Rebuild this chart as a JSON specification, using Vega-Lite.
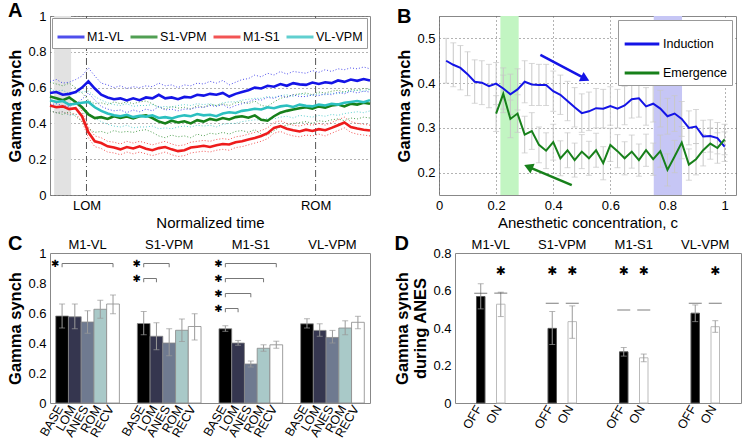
{
"$schema": "https://vega.github.io/schema/vega-lite/v6.json",
"padding": {"left": 7, "top": 0, "right": 0, "bottom": 0},
"spacing": 2,
"config": {
  "font": "Liberation Sans",
  "view": {"stroke": "#888", "strokeWidth": 1},
  "axis": {"labelFontSize": 13, "labelColor": "#000", "titleColor": "#000", "titleFontSize": 16.5, "titleFontWeight": "bold", "domain": false, "ticks": false, "grid": false, "labelPadding": 4, "labelOverlap": false, "labelFlush": false},
  "title": {"fontSize": 20, "fontWeight": "bold", "anchor": "start", "frame": "bounds", "color": "#000"}
},
"datasets": {
  "ts": [
{"pair":"M1-VL","t":0,"v":0.570,"lo":0.505,"hi":0.635},{"pair":"M1-VL","t":2,"v":0.575,"lo":0.51,"hi":0.645},{"pair":"M1-VL","t":4,"v":0.560,"lo":0.50,"hi":0.625},{"pair":"M1-VL","t":6,"v":0.565,"lo":0.495,"hi":0.63},{"pair":"M1-VL","t":8,"v":0.575,"lo":0.51,"hi":0.645},{"pair":"M1-VL","t":10,"v":0.600,"lo":0.535,"hi":0.665},{"pair":"M1-VL","t":12,"v":0.635,"lo":0.57,"hi":0.71},{"pair":"M1-VL","t":14,"v":0.595,"lo":0.53,"hi":0.665},{"pair":"M1-VL","t":16,"v":0.560,"lo":0.495,"hi":0.625},{"pair":"M1-VL","t":18,"v":0.545,"lo":0.48,"hi":0.615},{"pair":"M1-VL","t":20,"v":0.535,"lo":0.47,"hi":0.60},{"pair":"M1-VL","t":22,"v":0.540,"lo":0.475,"hi":0.61},{"pair":"M1-VL","t":24,"v":0.528,"lo":0.46,"hi":0.595},{"pair":"M1-VL","t":26,"v":0.540,"lo":0.475,"hi":0.605},{"pair":"M1-VL","t":28,"v":0.530,"lo":0.465,"hi":0.60},{"pair":"M1-VL","t":30,"v":0.545,"lo":0.48,"hi":0.61},{"pair":"M1-VL","t":32,"v":0.540,"lo":0.47,"hi":0.605},{"pair":"M1-VL","t":34,"v":0.560,"lo":0.495,"hi":0.625},{"pair":"M1-VL","t":36,"v":0.540,"lo":0.475,"hi":0.61},{"pair":"M1-VL","t":38,"v":0.545,"lo":0.48,"hi":0.615},{"pair":"M1-VL","t":40,"v":0.535,"lo":0.47,"hi":0.60},{"pair":"M1-VL","t":42,"v":0.548,"lo":0.48,"hi":0.615},{"pair":"M1-VL","t":44,"v":0.545,"lo":0.48,"hi":0.61},{"pair":"M1-VL","t":46,"v":0.560,"lo":0.49,"hi":0.625},{"pair":"M1-VL","t":48,"v":0.555,"lo":0.49,"hi":0.62},{"pair":"M1-VL","t":50,"v":0.565,"lo":0.50,"hi":0.635},{"pair":"M1-VL","t":52,"v":0.560,"lo":0.495,"hi":0.625},{"pair":"M1-VL","t":54,"v":0.570,"lo":0.505,"hi":0.64},{"pair":"M1-VL","t":56,"v":0.550,"lo":0.485,"hi":0.615},{"pair":"M1-VL","t":58,"v":0.565,"lo":0.50,"hi":0.63},{"pair":"M1-VL","t":60,"v":0.575,"lo":0.51,"hi":0.645},{"pair":"M1-VL","t":62,"v":0.585,"lo":0.52,"hi":0.65},{"pair":"M1-VL","t":64,"v":0.600,"lo":0.535,"hi":0.67},{"pair":"M1-VL","t":66,"v":0.595,"lo":0.53,"hi":0.66},{"pair":"M1-VL","t":68,"v":0.610,"lo":0.545,"hi":0.68},{"pair":"M1-VL","t":70,"v":0.605,"lo":0.54,"hi":0.67},{"pair":"M1-VL","t":72,"v":0.620,"lo":0.555,"hi":0.69},{"pair":"M1-VL","t":74,"v":0.610,"lo":0.545,"hi":0.675},{"pair":"M1-VL","t":76,"v":0.625,"lo":0.56,"hi":0.69},{"pair":"M1-VL","t":78,"v":0.618,"lo":0.55,"hi":0.685},{"pair":"M1-VL","t":80,"v":0.615,"lo":0.55,"hi":0.68},{"pair":"M1-VL","t":82,"v":0.628,"lo":0.56,"hi":0.695},{"pair":"M1-VL","t":84,"v":0.620,"lo":0.555,"hi":0.685},{"pair":"M1-VL","t":86,"v":0.630,"lo":0.565,"hi":0.70},{"pair":"M1-VL","t":88,"v":0.625,"lo":0.56,"hi":0.69},{"pair":"M1-VL","t":90,"v":0.640,"lo":0.575,"hi":0.705},{"pair":"M1-VL","t":92,"v":0.632,"lo":0.565,"hi":0.70},{"pair":"M1-VL","t":94,"v":0.645,"lo":0.58,"hi":0.71},{"pair":"M1-VL","t":96,"v":0.638,"lo":0.57,"hi":0.705},{"pair":"M1-VL","t":98,"v":0.648,"lo":0.58,"hi":0.715},{"pair":"M1-VL","t":100,"v":0.640,"lo":0.575,"hi":0.705},
{"pair":"S1-VPM","t":0,"v":0.550,"lo":0.47,"hi":0.63},{"pair":"S1-VPM","t":2,"v":0.540,"lo":0.46,"hi":0.62},{"pair":"S1-VPM","t":4,"v":0.530,"lo":0.45,"hi":0.61},{"pair":"S1-VPM","t":6,"v":0.545,"lo":0.465,"hi":0.625},{"pair":"S1-VPM","t":8,"v":0.520,"lo":0.44,"hi":0.60},{"pair":"S1-VPM","t":10,"v":0.490,"lo":0.41,"hi":0.57},{"pair":"S1-VPM","t":12,"v":0.450,"lo":0.37,"hi":0.53},{"pair":"S1-VPM","t":14,"v":0.430,"lo":0.35,"hi":0.51},{"pair":"S1-VPM","t":16,"v":0.435,"lo":0.355,"hi":0.515},{"pair":"S1-VPM","t":18,"v":0.425,"lo":0.345,"hi":0.505},{"pair":"S1-VPM","t":20,"v":0.440,"lo":0.36,"hi":0.52},{"pair":"S1-VPM","t":22,"v":0.430,"lo":0.35,"hi":0.51},{"pair":"S1-VPM","t":24,"v":0.438,"lo":0.355,"hi":0.52},{"pair":"S1-VPM","t":26,"v":0.428,"lo":0.35,"hi":0.51},{"pair":"S1-VPM","t":28,"v":0.440,"lo":0.36,"hi":0.52},{"pair":"S1-VPM","t":30,"v":0.445,"lo":0.365,"hi":0.525},{"pair":"S1-VPM","t":32,"v":0.430,"lo":0.35,"hi":0.51},{"pair":"S1-VPM","t":34,"v":0.410,"lo":0.33,"hi":0.49},{"pair":"S1-VPM","t":36,"v":0.400,"lo":0.32,"hi":0.48},{"pair":"S1-VPM","t":38,"v":0.415,"lo":0.335,"hi":0.495},{"pair":"S1-VPM","t":40,"v":0.405,"lo":0.325,"hi":0.485},{"pair":"S1-VPM","t":42,"v":0.412,"lo":0.33,"hi":0.49},{"pair":"S1-VPM","t":44,"v":0.400,"lo":0.32,"hi":0.48},{"pair":"S1-VPM","t":46,"v":0.418,"lo":0.34,"hi":0.50},{"pair":"S1-VPM","t":48,"v":0.410,"lo":0.33,"hi":0.49},{"pair":"S1-VPM","t":50,"v":0.425,"lo":0.345,"hi":0.505},{"pair":"S1-VPM","t":52,"v":0.418,"lo":0.34,"hi":0.50},{"pair":"S1-VPM","t":54,"v":0.430,"lo":0.35,"hi":0.51},{"pair":"S1-VPM","t":56,"v":0.422,"lo":0.34,"hi":0.50},{"pair":"S1-VPM","t":58,"v":0.435,"lo":0.355,"hi":0.515},{"pair":"S1-VPM","t":60,"v":0.440,"lo":0.36,"hi":0.52},{"pair":"S1-VPM","t":62,"v":0.432,"lo":0.35,"hi":0.51},{"pair":"S1-VPM","t":64,"v":0.445,"lo":0.365,"hi":0.525},{"pair":"S1-VPM","t":66,"v":0.420,"lo":0.34,"hi":0.50},{"pair":"S1-VPM","t":68,"v":0.415,"lo":0.335,"hi":0.495},{"pair":"S1-VPM","t":70,"v":0.440,"lo":0.36,"hi":0.52},{"pair":"S1-VPM","t":72,"v":0.460,"lo":0.38,"hi":0.54},{"pair":"S1-VPM","t":74,"v":0.470,"lo":0.39,"hi":0.55},{"pair":"S1-VPM","t":76,"v":0.478,"lo":0.40,"hi":0.56},{"pair":"S1-VPM","t":78,"v":0.485,"lo":0.405,"hi":0.565},{"pair":"S1-VPM","t":80,"v":0.490,"lo":0.41,"hi":0.57},{"pair":"S1-VPM","t":82,"v":0.482,"lo":0.40,"hi":0.56},{"pair":"S1-VPM","t":84,"v":0.495,"lo":0.415,"hi":0.575},{"pair":"S1-VPM","t":86,"v":0.488,"lo":0.41,"hi":0.57},{"pair":"S1-VPM","t":88,"v":0.500,"lo":0.42,"hi":0.58},{"pair":"S1-VPM","t":90,"v":0.505,"lo":0.425,"hi":0.585},{"pair":"S1-VPM","t":92,"v":0.495,"lo":0.415,"hi":0.575},{"pair":"S1-VPM","t":94,"v":0.510,"lo":0.43,"hi":0.59},{"pair":"S1-VPM","t":96,"v":0.505,"lo":0.425,"hi":0.585},{"pair":"S1-VPM","t":98,"v":0.515,"lo":0.435,"hi":0.595},{"pair":"S1-VPM","t":100,"v":0.510,"lo":0.43,"hi":0.59},
{"pair":"M1-S1","t":0,"v":0.500,"lo":0.47,"hi":0.53},{"pair":"M1-S1","t":2,"v":0.490,"lo":0.46,"hi":0.52},{"pair":"M1-S1","t":4,"v":0.495,"lo":0.465,"hi":0.525},{"pair":"M1-S1","t":6,"v":0.480,"lo":0.45,"hi":0.51},{"pair":"M1-S1","t":8,"v":0.485,"lo":0.455,"hi":0.515},{"pair":"M1-S1","t":10,"v":0.440,"lo":0.41,"hi":0.47},{"pair":"M1-S1","t":12,"v":0.350,"lo":0.32,"hi":0.38},{"pair":"M1-S1","t":14,"v":0.300,"lo":0.27,"hi":0.33},{"pair":"M1-S1","t":16,"v":0.290,"lo":0.26,"hi":0.32},{"pair":"M1-S1","t":18,"v":0.272,"lo":0.24,"hi":0.30},{"pair":"M1-S1","t":20,"v":0.265,"lo":0.235,"hi":0.295},{"pair":"M1-S1","t":22,"v":0.255,"lo":0.225,"hi":0.285},{"pair":"M1-S1","t":24,"v":0.268,"lo":0.24,"hi":0.30},{"pair":"M1-S1","t":26,"v":0.260,"lo":0.23,"hi":0.29},{"pair":"M1-S1","t":28,"v":0.272,"lo":0.24,"hi":0.30},{"pair":"M1-S1","t":30,"v":0.258,"lo":0.23,"hi":0.29},{"pair":"M1-S1","t":32,"v":0.250,"lo":0.22,"hi":0.28},{"pair":"M1-S1","t":34,"v":0.262,"lo":0.23,"hi":0.29},{"pair":"M1-S1","t":36,"v":0.268,"lo":0.24,"hi":0.30},{"pair":"M1-S1","t":38,"v":0.255,"lo":0.225,"hi":0.285},{"pair":"M1-S1","t":40,"v":0.245,"lo":0.215,"hi":0.275},{"pair":"M1-S1","t":42,"v":0.250,"lo":0.22,"hi":0.28},{"pair":"M1-S1","t":44,"v":0.265,"lo":0.235,"hi":0.295},{"pair":"M1-S1","t":46,"v":0.270,"lo":0.24,"hi":0.30},{"pair":"M1-S1","t":48,"v":0.275,"lo":0.245,"hi":0.305},{"pair":"M1-S1","t":50,"v":0.268,"lo":0.24,"hi":0.30},{"pair":"M1-S1","t":52,"v":0.278,"lo":0.25,"hi":0.31},{"pair":"M1-S1","t":54,"v":0.285,"lo":0.255,"hi":0.315},{"pair":"M1-S1","t":56,"v":0.282,"lo":0.25,"hi":0.31},{"pair":"M1-S1","t":58,"v":0.295,"lo":0.265,"hi":0.325},{"pair":"M1-S1","t":60,"v":0.300,"lo":0.27,"hi":0.33},{"pair":"M1-S1","t":62,"v":0.310,"lo":0.28,"hi":0.34},{"pair":"M1-S1","t":64,"v":0.318,"lo":0.29,"hi":0.35},{"pair":"M1-S1","t":66,"v":0.330,"lo":0.30,"hi":0.36},{"pair":"M1-S1","t":68,"v":0.345,"lo":0.315,"hi":0.375},{"pair":"M1-S1","t":70,"v":0.375,"lo":0.345,"hi":0.405},{"pair":"M1-S1","t":72,"v":0.385,"lo":0.355,"hi":0.415},{"pair":"M1-S1","t":74,"v":0.370,"lo":0.34,"hi":0.40},{"pair":"M1-S1","t":76,"v":0.362,"lo":0.33,"hi":0.39},{"pair":"M1-S1","t":78,"v":0.355,"lo":0.325,"hi":0.385},{"pair":"M1-S1","t":80,"v":0.365,"lo":0.335,"hi":0.395},{"pair":"M1-S1","t":82,"v":0.358,"lo":0.33,"hi":0.39},{"pair":"M1-S1","t":84,"v":0.368,"lo":0.34,"hi":0.40},{"pair":"M1-S1","t":86,"v":0.362,"lo":0.33,"hi":0.39},{"pair":"M1-S1","t":88,"v":0.375,"lo":0.345,"hi":0.405},{"pair":"M1-S1","t":90,"v":0.390,"lo":0.36,"hi":0.42},{"pair":"M1-S1","t":92,"v":0.405,"lo":0.375,"hi":0.435},{"pair":"M1-S1","t":94,"v":0.380,"lo":0.35,"hi":0.41},{"pair":"M1-S1","t":96,"v":0.372,"lo":0.34,"hi":0.40},{"pair":"M1-S1","t":98,"v":0.365,"lo":0.335,"hi":0.395},{"pair":"M1-S1","t":100,"v":0.360,"lo":0.33,"hi":0.39},
{"pair":"VL-VPM","t":0,"v":0.530,"lo":0.47,"hi":0.59},{"pair":"VL-VPM","t":2,"v":0.520,"lo":0.46,"hi":0.58},{"pair":"VL-VPM","t":4,"v":0.525,"lo":0.465,"hi":0.585},{"pair":"VL-VPM","t":6,"v":0.505,"lo":0.445,"hi":0.565},{"pair":"VL-VPM","t":8,"v":0.510,"lo":0.45,"hi":0.57},{"pair":"VL-VPM","t":10,"v":0.515,"lo":0.455,"hi":0.575},{"pair":"VL-VPM","t":12,"v":0.520,"lo":0.46,"hi":0.58},{"pair":"VL-VPM","t":14,"v":0.490,"lo":0.43,"hi":0.55},{"pair":"VL-VPM","t":16,"v":0.470,"lo":0.41,"hi":0.53},{"pair":"VL-VPM","t":18,"v":0.455,"lo":0.395,"hi":0.515},{"pair":"VL-VPM","t":20,"v":0.445,"lo":0.385,"hi":0.505},{"pair":"VL-VPM","t":22,"v":0.440,"lo":0.38,"hi":0.50},{"pair":"VL-VPM","t":24,"v":0.448,"lo":0.39,"hi":0.51},{"pair":"VL-VPM","t":26,"v":0.435,"lo":0.375,"hi":0.495},{"pair":"VL-VPM","t":28,"v":0.442,"lo":0.38,"hi":0.50},{"pair":"VL-VPM","t":30,"v":0.438,"lo":0.38,"hi":0.50},{"pair":"VL-VPM","t":32,"v":0.445,"lo":0.385,"hi":0.505},{"pair":"VL-VPM","t":34,"v":0.430,"lo":0.37,"hi":0.49},{"pair":"VL-VPM","t":36,"v":0.435,"lo":0.375,"hi":0.495},{"pair":"VL-VPM","t":38,"v":0.428,"lo":0.37,"hi":0.49},{"pair":"VL-VPM","t":40,"v":0.438,"lo":0.38,"hi":0.50},{"pair":"VL-VPM","t":42,"v":0.445,"lo":0.385,"hi":0.505},{"pair":"VL-VPM","t":44,"v":0.440,"lo":0.38,"hi":0.50},{"pair":"VL-VPM","t":46,"v":0.452,"lo":0.39,"hi":0.51},{"pair":"VL-VPM","t":48,"v":0.445,"lo":0.385,"hi":0.505},{"pair":"VL-VPM","t":50,"v":0.448,"lo":0.39,"hi":0.51},{"pair":"VL-VPM","t":52,"v":0.440,"lo":0.38,"hi":0.50},{"pair":"VL-VPM","t":54,"v":0.455,"lo":0.395,"hi":0.515},{"pair":"VL-VPM","t":56,"v":0.462,"lo":0.40,"hi":0.52},{"pair":"VL-VPM","t":58,"v":0.458,"lo":0.40,"hi":0.52},{"pair":"VL-VPM","t":60,"v":0.470,"lo":0.41,"hi":0.53},{"pair":"VL-VPM","t":62,"v":0.475,"lo":0.415,"hi":0.535},{"pair":"VL-VPM","t":64,"v":0.482,"lo":0.42,"hi":0.54},{"pair":"VL-VPM","t":66,"v":0.478,"lo":0.42,"hi":0.54},{"pair":"VL-VPM","t":68,"v":0.490,"lo":0.43,"hi":0.55},{"pair":"VL-VPM","t":70,"v":0.485,"lo":0.425,"hi":0.545},{"pair":"VL-VPM","t":72,"v":0.495,"lo":0.435,"hi":0.555},{"pair":"VL-VPM","t":74,"v":0.500,"lo":0.44,"hi":0.56},{"pair":"VL-VPM","t":76,"v":0.492,"lo":0.43,"hi":0.55},{"pair":"VL-VPM","t":78,"v":0.505,"lo":0.445,"hi":0.565},{"pair":"VL-VPM","t":80,"v":0.498,"lo":0.44,"hi":0.56},{"pair":"VL-VPM","t":82,"v":0.495,"lo":0.435,"hi":0.555},{"pair":"VL-VPM","t":84,"v":0.505,"lo":0.445,"hi":0.565},{"pair":"VL-VPM","t":86,"v":0.500,"lo":0.44,"hi":0.56},{"pair":"VL-VPM","t":88,"v":0.510,"lo":0.45,"hi":0.57},{"pair":"VL-VPM","t":90,"v":0.505,"lo":0.445,"hi":0.565},{"pair":"VL-VPM","t":92,"v":0.515,"lo":0.455,"hi":0.575},{"pair":"VL-VPM","t":94,"v":0.520,"lo":0.46,"hi":0.58},{"pair":"VL-VPM","t":96,"v":0.525,"lo":0.465,"hi":0.585},{"pair":"VL-VPM","t":98,"v":0.518,"lo":0.46,"hi":0.58},{"pair":"VL-VPM","t":100,"v":0.530,"lo":0.47,"hi":0.59}
  ],
  "conc": [
{"phase":"Induction","c":0.025,"v":0.450,"lo":0.400,"hi":0.500},{"phase":"Induction","c":0.05,"v":0.441,"lo":0.392,"hi":0.490},{"phase":"Induction","c":0.075,"v":0.434,"lo":0.385,"hi":0.484},{"phase":"Induction","c":0.1,"v":0.420,"lo":0.372,"hi":0.470},{"phase":"Induction","c":0.125,"v":0.403,"lo":0.355,"hi":0.452},{"phase":"Induction","c":0.15,"v":0.401,"lo":0.352,"hi":0.450},{"phase":"Induction","c":0.175,"v":0.393,"lo":0.345,"hi":0.442},{"phase":"Induction","c":0.2,"v":0.399,"lo":0.352,"hi":0.446},{"phase":"Induction","c":0.225,"v":0.388,"lo":0.342,"hi":0.434},{"phase":"Induction","c":0.25,"v":0.375,"lo":0.330,"hi":0.420},{"phase":"Induction","c":0.275,"v":0.386,"lo":0.340,"hi":0.432},{"phase":"Induction","c":0.3,"v":0.403,"lo":0.356,"hi":0.450},{"phase":"Induction","c":0.325,"v":0.397,"lo":0.350,"hi":0.444},{"phase":"Induction","c":0.35,"v":0.396,"lo":0.350,"hi":0.442},{"phase":"Induction","c":0.375,"v":0.396,"lo":0.350,"hi":0.442},{"phase":"Induction","c":0.4,"v":0.382,"lo":0.337,"hi":0.427},{"phase":"Induction","c":0.425,"v":0.374,"lo":0.330,"hi":0.418},{"phase":"Induction","c":0.45,"v":0.360,"lo":0.316,"hi":0.404},{"phase":"Induction","c":0.475,"v":0.346,"lo":0.302,"hi":0.390},{"phase":"Induction","c":0.5,"v":0.333,"lo":0.290,"hi":0.376},{"phase":"Induction","c":0.525,"v":0.337,"lo":0.294,"hi":0.380},{"phase":"Induction","c":0.55,"v":0.344,"lo":0.300,"hi":0.388},{"phase":"Induction","c":0.575,"v":0.343,"lo":0.300,"hi":0.386},{"phase":"Induction","c":0.6,"v":0.349,"lo":0.306,"hi":0.392},{"phase":"Induction","c":0.625,"v":0.343,"lo":0.300,"hi":0.386},{"phase":"Induction","c":0.65,"v":0.350,"lo":0.307,"hi":0.393},{"phase":"Induction","c":0.675,"v":0.364,"lo":0.322,"hi":0.406},{"phase":"Induction","c":0.7,"v":0.366,"lo":0.324,"hi":0.408},{"phase":"Induction","c":0.725,"v":0.348,"lo":0.306,"hi":0.390},{"phase":"Induction","c":0.75,"v":0.354,"lo":0.313,"hi":0.395},{"phase":"Induction","c":0.775,"v":0.343,"lo":0.302,"hi":0.384},{"phase":"Induction","c":0.8,"v":0.326,"lo":0.286,"hi":0.366},{"phase":"Induction","c":0.825,"v":0.332,"lo":0.292,"hi":0.372},{"phase":"Induction","c":0.85,"v":0.320,"lo":0.281,"hi":0.359},{"phase":"Induction","c":0.875,"v":0.300,"lo":0.262,"hi":0.338},{"phase":"Induction","c":0.9,"v":0.303,"lo":0.265,"hi":0.341},{"phase":"Induction","c":0.925,"v":0.281,"lo":0.245,"hi":0.317},{"phase":"Induction","c":0.95,"v":0.282,"lo":0.246,"hi":0.318},{"phase":"Induction","c":0.975,"v":0.277,"lo":0.242,"hi":0.312},{"phase":"Induction","c":1.0,"v":0.258,"lo":0.225,"hi":0.291},
{"phase":"Emergence","c":0.2,"v":0.332,"lo":0.292,"hi":0.372},{"phase":"Emergence","c":0.225,"v":0.376,"lo":0.334,"hi":0.418},{"phase":"Emergence","c":0.25,"v":0.320,"lo":0.278,"hi":0.362},{"phase":"Emergence","c":0.275,"v":0.332,"lo":0.290,"hi":0.374},{"phase":"Emergence","c":0.3,"v":0.285,"lo":0.244,"hi":0.326},{"phase":"Emergence","c":0.325,"v":0.293,"lo":0.252,"hi":0.334},{"phase":"Emergence","c":0.35,"v":0.262,"lo":0.222,"hi":0.302},{"phase":"Emergence","c":0.375,"v":0.249,"lo":0.209,"hi":0.289},{"phase":"Emergence","c":0.4,"v":0.268,"lo":0.228,"hi":0.308},{"phase":"Emergence","c":0.425,"v":0.232,"lo":0.193,"hi":0.271},{"phase":"Emergence","c":0.45,"v":0.250,"lo":0.211,"hi":0.289},{"phase":"Emergence","c":0.475,"v":0.228,"lo":0.190,"hi":0.266},{"phase":"Emergence","c":0.5,"v":0.247,"lo":0.209,"hi":0.285},{"phase":"Emergence","c":0.525,"v":0.232,"lo":0.194,"hi":0.270},{"phase":"Emergence","c":0.55,"v":0.250,"lo":0.212,"hi":0.288},{"phase":"Emergence","c":0.575,"v":0.221,"lo":0.184,"hi":0.258},{"phase":"Emergence","c":0.6,"v":0.262,"lo":0.225,"hi":0.299},{"phase":"Emergence","c":0.625,"v":0.248,"lo":0.211,"hi":0.285},{"phase":"Emergence","c":0.65,"v":0.232,"lo":0.195,"hi":0.269},{"phase":"Emergence","c":0.675,"v":0.247,"lo":0.210,"hi":0.284},{"phase":"Emergence","c":0.7,"v":0.228,"lo":0.192,"hi":0.264},{"phase":"Emergence","c":0.725,"v":0.250,"lo":0.214,"hi":0.286},{"phase":"Emergence","c":0.75,"v":0.230,"lo":0.194,"hi":0.266},{"phase":"Emergence","c":0.775,"v":0.248,"lo":0.212,"hi":0.284},{"phase":"Emergence","c":0.8,"v":0.206,"lo":0.170,"hi":0.242},{"phase":"Emergence","c":0.825,"v":0.236,"lo":0.200,"hi":0.272},{"phase":"Emergence","c":0.85,"v":0.267,"lo":0.231,"hi":0.303},{"phase":"Emergence","c":0.875,"v":0.218,"lo":0.183,"hi":0.253},{"phase":"Emergence","c":0.9,"v":0.230,"lo":0.195,"hi":0.265},{"phase":"Emergence","c":0.925,"v":0.250,"lo":0.215,"hi":0.285},{"phase":"Emergence","c":0.95,"v":0.265,"lo":0.230,"hi":0.300},{"phase":"Emergence","c":0.975,"v":0.255,"lo":0.221,"hi":0.289},{"phase":"Emergence","c":1.0,"v":0.274,"lo":0.240,"hi":0.308}
  ],
  "arrows": [
{"phase":"Induction","c":0.355,"v":0.463,"o":1},{"phase":"Induction","c":0.512,"v":0.410,"o":2},
{"phase":"Emergence","c":0.465,"v":0.172,"o":1},{"phase":"Emergence","c":0.313,"v":0.213,"o":2}
  ],
  "bars": [
{"pair":"M1-VL","cond":"BASE","v":0.58,"lo":0.50,"hi":0.66},{"pair":"M1-VL","cond":"LOM","v":0.575,"lo":0.495,"hi":0.66},{"pair":"M1-VL","cond":"ANES","v":0.54,"lo":0.465,"hi":0.615},{"pair":"M1-VL","cond":"ROM","v":0.625,"lo":0.565,"hi":0.685},{"pair":"M1-VL","cond":"RECV","v":0.66,"lo":0.595,"hi":0.72},
{"pair":"S1-VPM","cond":"BASE","v":0.53,"lo":0.455,"hi":0.61},{"pair":"S1-VPM","cond":"LOM","v":0.445,"lo":0.355,"hi":0.535},{"pair":"S1-VPM","cond":"ANES","v":0.40,"lo":0.315,"hi":0.495},{"pair":"S1-VPM","cond":"ROM","v":0.485,"lo":0.41,"hi":0.56},{"pair":"S1-VPM","cond":"RECV","v":0.51,"lo":0.42,"hi":0.595},
{"pair":"M1-S1","cond":"BASE","v":0.495,"lo":0.478,"hi":0.515},{"pair":"M1-S1","cond":"LOM","v":0.40,"lo":0.385,"hi":0.417},{"pair":"M1-S1","cond":"ANES","v":0.26,"lo":0.24,"hi":0.28},{"pair":"M1-S1","cond":"ROM","v":0.365,"lo":0.345,"hi":0.388},{"pair":"M1-S1","cond":"RECV","v":0.388,"lo":0.365,"hi":0.412},
{"pair":"VL-VPM","cond":"BASE","v":0.528,"lo":0.50,"hi":0.562},{"pair":"VL-VPM","cond":"LOM","v":0.484,"lo":0.445,"hi":0.528},{"pair":"VL-VPM","cond":"ANES","v":0.437,"lo":0.40,"hi":0.484},{"pair":"VL-VPM","cond":"ROM","v":0.50,"lo":0.455,"hi":0.548},{"pair":"VL-VPM","cond":"RECV","v":0.538,"lo":0.495,"hi":0.578}
  ],
  "brk": [
{"pair":"M1-VL","cond":"BASE","y":0.905,"id":"a","o":1},{"pair":"M1-VL","cond":"BASE","y":0.93,"id":"a","o":2},{"pair":"M1-VL","cond":"RECV","y":0.93,"id":"a","o":3},{"pair":"M1-VL","cond":"RECV","y":0.905,"id":"a","o":4},
{"pair":"S1-VPM","cond":"BASE","y":0.905,"id":"b","o":1},{"pair":"S1-VPM","cond":"BASE","y":0.93,"id":"b","o":2},{"pair":"S1-VPM","cond":"ANES","y":0.93,"id":"b","o":3},{"pair":"S1-VPM","cond":"ANES","y":0.905,"id":"b","o":4},
{"pair":"S1-VPM","cond":"BASE","y":0.805,"id":"c","o":1},{"pair":"S1-VPM","cond":"BASE","y":0.83,"id":"c","o":2},{"pair":"S1-VPM","cond":"LOM","y":0.83,"id":"c","o":3},{"pair":"S1-VPM","cond":"LOM","y":0.805,"id":"c","o":4},
{"pair":"M1-S1","cond":"BASE","y":0.905,"id":"d","o":1},{"pair":"M1-S1","cond":"BASE","y":0.93,"id":"d","o":2},{"pair":"M1-S1","cond":"RECV","y":0.93,"id":"d","o":3},{"pair":"M1-S1","cond":"RECV","y":0.905,"id":"d","o":4},
{"pair":"M1-S1","cond":"BASE","y":0.805,"id":"e","o":1},{"pair":"M1-S1","cond":"BASE","y":0.83,"id":"e","o":2},{"pair":"M1-S1","cond":"ROM","y":0.83,"id":"e","o":3},{"pair":"M1-S1","cond":"ROM","y":0.805,"id":"e","o":4},
{"pair":"M1-S1","cond":"BASE","y":0.705,"id":"f","o":1},{"pair":"M1-S1","cond":"BASE","y":0.73,"id":"f","o":2},{"pair":"M1-S1","cond":"ANES","y":0.73,"id":"f","o":3},{"pair":"M1-S1","cond":"ANES","y":0.705,"id":"f","o":4},
{"pair":"M1-S1","cond":"BASE","y":0.605,"id":"g","o":1},{"pair":"M1-S1","cond":"BASE","y":0.63,"id":"g","o":2},{"pair":"M1-S1","cond":"LOM","y":0.63,"id":"g","o":3},{"pair":"M1-S1","cond":"LOM","y":0.605,"id":"g","o":4}
  ],
  "ast": [
{"pair":"M1-VL","cond":"BASE","y":0.93},{"pair":"S1-VPM","cond":"BASE","y":0.93},{"pair":"S1-VPM","cond":"BASE","y":0.83},
{"pair":"M1-S1","cond":"BASE","y":0.93},{"pair":"M1-S1","cond":"BASE","y":0.83},{"pair":"M1-S1","cond":"BASE","y":0.73},{"pair":"M1-S1","cond":"BASE","y":0.63}
  ],
  "dbar": [
{"pair":"M1-VL","state":"OFF","v":0.568,"lo":0.502,"hi":0.636,"sig":0.586},{"pair":"M1-VL","state":"ON","v":0.527,"lo":0.461,"hi":0.591,"sig":0.586},
{"pair":"S1-VPM","state":"OFF","v":0.398,"lo":0.312,"hi":0.488,"sig":0.532},{"pair":"S1-VPM","state":"ON","v":0.434,"lo":0.345,"hi":0.518,"sig":0.532},
{"pair":"M1-S1","state":"OFF","v":0.273,"lo":0.250,"hi":0.296,"sig":0.496},{"pair":"M1-S1","state":"ON","v":0.241,"lo":0.220,"hi":0.261,"sig":0.496},
{"pair":"VL-VPM","state":"OFF","v":0.479,"lo":0.434,"hi":0.523,"sig":0.532},{"pair":"VL-VPM","state":"ON","v":0.407,"lo":0.377,"hi":0.439,"sig":0.532}
  ],
  "dstar": [
{"pair":"M1-VL","state":"ON","y":0.703},{"pair":"S1-VPM","state":"OFF","y":0.703},{"pair":"S1-VPM","state":"ON","y":0.703},{"pair":"M1-S1","state":"OFF","y":0.703},{"pair":"M1-S1","state":"ON","y":0.703},{"pair":"VL-VPM","state":"ON","y":0.703}
  ]
},
"vconcat": [
 {
  "hconcat": [
   {
    "width": 320, "height": 179,
    "title": {"text": "A", "offset": -11},
    "layer": [
     {"data": {"values": [{"a": 1.3, "b": 6.6}]}, "mark": {"type": "rect", "color": "#e2e2e2"},
      "encoding": {"x": {"field": "a", "type": "quantitative", "scale": {"domain": [0, 100], "nice": false}}, "x2": {"field": "b"}}},
     {"data": {"values": [{"t": 11.4}, {"t": 83}]}, "mark": {"type": "rule", "color": "#555", "strokeDash": [7, 3, 1, 3]},
      "encoding": {"x": {"field": "t", "type": "quantitative", "scale": {"domain": [0, 100], "nice": false}}}},
     {"data": {"name": "ts"}, "mark": {"type": "line", "strokeWidth": 1, "strokeDash": [1, 2], "opacity": 0.75},
      "encoding": {"x": {"field": "t", "type": "quantitative", "scale": {"domain": [0, 100], "nice": false}}, "y": {"field": "hi", "type": "quantitative", "scale": {"domain": [0, 1], "nice": false}}, "color": {"field": "pair", "type": "nominal"}}},
     {"data": {"name": "ts"}, "mark": {"type": "line", "strokeWidth": 1, "strokeDash": [1, 2], "opacity": 0.75},
      "encoding": {"x": {"field": "t", "type": "quantitative", "scale": {"domain": [0, 100], "nice": false}}, "y": {"field": "lo", "type": "quantitative", "scale": {"domain": [0, 1], "nice": false}}, "color": {"field": "pair", "type": "nominal"}}},
     {"data": {"name": "ts"}, "mark": {"type": "line", "strokeWidth": 2.6},
      "encoding": {
       "x": {"field": "t", "type": "quantitative", "scale": {"domain": [0, 100], "nice": false},
             "axis": {"title": "Normalized time", "titleFontWeight": "normal", "titleFontSize": 15, "values": [11.4, 83], "tickCount": 12, "labelExpr": "datum.value < 50 ? 'LOM' : 'ROM'", "titlePadding": 3, "labelOverlap": false}},
       "y": {"field": "v", "type": "quantitative", "scale": {"domain": [0, 1], "nice": false},
             "axis": {"title": "Gamma synch", "values": [0, 0.2, 0.4, 0.6, 0.8, 1], "tickCount": 12, "format": "~g", "labelOverlap": false, "grid": true, "gridDash": [1, 3], "gridColor": "#666"}},
       "color": {"field": "pair", "type": "nominal",
                 "scale": {"domain": ["M1-VL", "S1-VPM", "M1-S1", "VL-VPM"], "range": ["#1414e6", "#17801a", "#ee1c1c", "#2cc0c0"]},
                 "legend": {"title": null, "orient": "none", "legendX": 2, "legendY": 2, "direction": "horizontal", "gridAlign": "none", "symbolType": "stroke", "symbolSize": 729, "symbolStrokeWidth": 3, "labelFontSize": 12.5, "labelOffset": 1, "columnPadding": 0, "fillColor": "#fff", "strokeColor": "#999", "padding": 4}}
      }}
    ]
   },
   {
    "width": 297, "height": 179,
    "title": {"text": "B", "offset": -11},
    "layer": [
     {"data": {"values": [{"a": 0.215, "b": 0.279, "k": "g"}, {"a": 0.752, "b": 0.851, "k": "b"}]}, "mark": {"type": "rect"},
      "encoding": {"x": {"field": "a", "type": "quantitative", "scale": {"domain": [0, 1.04], "nice": false}}, "x2": {"field": "b"},
                   "fill": {"field": "k", "type": "nominal", "scale": {"domain": ["g", "b"], "range": ["#c2f5c2", "#c6c6f5"]}, "legend": null}}},
     {"data": {"name": "conc"}, "mark": {"type": "rule", "color": "#c8c8c8", "strokeWidth": 1},
      "encoding": {"x": {"field": "c", "type": "quantitative", "scale": {"domain": [0, 1.04], "nice": false}}, "y": {"field": "lo", "type": "quantitative", "scale": {"domain": [0.15, 0.55], "nice": false, "zero": false}}, "y2": {"field": "hi"}}},
     {"data": {"name": "conc"}, "mark": {"type": "tick", "orient": "horizontal", "color": "#c8c8c8", "size": 6, "thickness": 1},
      "encoding": {"x": {"field": "c", "type": "quantitative", "scale": {"domain": [0, 1.04], "nice": false}}, "y": {"field": "lo", "type": "quantitative", "scale": {"domain": [0.15, 0.55], "nice": false, "zero": false}}}},
     {"data": {"name": "conc"}, "mark": {"type": "tick", "orient": "horizontal", "color": "#c8c8c8", "size": 6, "thickness": 1},
      "encoding": {"x": {"field": "c", "type": "quantitative", "scale": {"domain": [0, 1.04], "nice": false}}, "y": {"field": "hi", "type": "quantitative", "scale": {"domain": [0.15, 0.55], "nice": false, "zero": false}}}},
     {"data": {"name": "conc"}, "mark": {"type": "line", "strokeWidth": 2},
      "encoding": {
       "x": {"field": "c", "type": "quantitative", "scale": {"domain": [0, 1.04], "nice": false},
             "axis": {"title": "Anesthetic concentration, c", "titleFontWeight": "normal", "titleFontSize": 15, "values": [0, 0.2, 0.4, 0.6, 0.8, 1], "tickCount": 12, "format": "~g", "labelOverlap": false, "grid": true, "gridDash": [1, 3], "gridColor": "#666", "titlePadding": 3}},
       "y": {"field": "v", "type": "quantitative", "scale": {"domain": [0.15, 0.55], "nice": false, "zero": false},
             "axis": {"title": "Gamma synch", "values": [0.2, 0.3, 0.4, 0.5], "tickCount": 12, "format": "~g", "labelOverlap": false, "grid": true, "gridDash": [1, 3], "gridColor": "#666"}},
       "color": {"field": "phase", "type": "nominal",
                 "scale": {"domain": ["Induction", "Emergence"], "range": ["#1414e6", "#17801a"]},
                 "legend": {"title": null, "orient": "none", "legendX": 179, "legendY": 4, "direction": "vertical", "symbolType": "stroke", "symbolSize": 1200, "symbolStrokeWidth": 3, "labelFontSize": 12.5, "labelOffset": 2, "rowPadding": 3, "fillColor": "#fff", "strokeColor": "#999", "padding": 5}}
      }},
     {"data": {"name": "arrows"}, "mark": {"type": "line", "strokeWidth": 2.5},
      "encoding": {"x": {"field": "c", "type": "quantitative", "scale": {"domain": [0, 1.04], "nice": false}}, "y": {"field": "v", "type": "quantitative", "scale": {"domain": [0.15, 0.55], "nice": false, "zero": false}}, "order": {"field": "o"},
                   "color": {"field": "phase", "type": "nominal"}}},
     {"data": {"name": "arrows"}, "transform": [{"filter": "datum.o == 2"}], "mark": {"type": "point", "shape": "triangle-right", "filled": true, "size": 110, "opacity": 1},
      "encoding": {"x": {"field": "c", "type": "quantitative", "scale": {"domain": [0, 1.04], "nice": false}}, "y": {"field": "v", "type": "quantitative", "scale": {"domain": [0.15, 0.55], "nice": false, "zero": false}},
                   "color": {"field": "phase", "type": "nominal"},
                   "angle": {"field": "phase", "type": "nominal", "scale": {"domain": ["Induction", "Emergence"], "range": [27, 203]}, "legend": null}}}
    ]
   }
  ],
  "spacing": 69,
  "bounds": "flush",
  "resolve": {"scale": {"color": "independent", "x": "independent", "y": "independent"}}
 },
 {
  "hconcat": [
   {
    "width": 320, "height": 150,
    "title": {"text": "C", "offset": -16},
    "layer": [
     {"data": {"name": "bars"}, "mark": {"type": "bar", "stroke": "#888", "strokeWidth": 0.8},
      "encoding": {
       "x": {"field": "pair", "type": "nominal", "sort": ["M1-VL", "S1-VPM", "M1-S1", "VL-VPM"], "scale": {"paddingInner": 0.22, "paddingOuter": 0.07},
             "axis": {"orient": "top", "title": null, "labelAngle": 0, "labelFontSize": 13, "labelPadding": 2}},
       "xOffset": {"field": "cond", "type": "nominal", "sort": ["BASE", "LOM", "ANES", "ROM", "RECV"], "scale": {"paddingInner": 0, "paddingOuter": 0}},
       "y": {"field": "v", "type": "quantitative", "scale": {"domain": [0, 1], "nice": false},
             "axis": {"title": "Gamma synch", "values": [0, 0.2, 0.4, 0.6, 0.8, 1], "tickCount": 12, "format": "~g", "labelOverlap": false}},
       "fill": {"field": "cond", "type": "nominal", "scale": {"domain": ["BASE", "LOM", "ANES", "ROM", "RECV"], "range": ["#000000", "#35364f", "#6f7a90", "#a9c9c8", "#ffffff"]}, "legend": null}
      }},
     {"data": {"name": "bars"}, "mark": {"type": "rule", "color": "#999", "strokeWidth": 1},
      "encoding": {"x": {"field": "pair", "type": "nominal", "sort": ["M1-VL", "S1-VPM", "M1-S1", "VL-VPM"]}, "xOffset": {"field": "cond", "type": "nominal", "sort": ["BASE", "LOM", "ANES", "ROM", "RECV"]},
                   "y": {"field": "lo", "type": "quantitative"}, "y2": {"field": "hi"}}},
     {"data": {"name": "bars"}, "mark": {"type": "tick", "color": "#999", "size": 6, "thickness": 1},
      "encoding": {"x": {"field": "pair", "type": "nominal", "sort": ["M1-VL", "S1-VPM", "M1-S1", "VL-VPM"]}, "xOffset": {"field": "cond", "type": "nominal", "sort": ["BASE", "LOM", "ANES", "ROM", "RECV"]},
                   "y": {"field": "lo", "type": "quantitative"}}},
     {"data": {"name": "bars"}, "mark": {"type": "tick", "color": "#999", "size": 6, "thickness": 1},
      "encoding": {"x": {"field": "pair", "type": "nominal", "sort": ["M1-VL", "S1-VPM", "M1-S1", "VL-VPM"]}, "xOffset": {"field": "cond", "type": "nominal", "sort": ["BASE", "LOM", "ANES", "ROM", "RECV"]},
                   "y": {"field": "hi", "type": "quantitative"}}},
     {"data": {"name": "brk"}, "mark": {"type": "line", "color": "#777", "strokeWidth": 1},
      "encoding": {"x": {"field": "pair", "type": "nominal", "sort": ["M1-VL", "S1-VPM", "M1-S1", "VL-VPM"]}, "xOffset": {"field": "cond", "type": "nominal", "sort": ["BASE", "LOM", "ANES", "ROM", "RECV"]},
                   "y": {"field": "y", "type": "quantitative"}, "detail": {"field": "id"}, "order": {"field": "o"}}},
     {"data": {"name": "ast"}, "mark": {"type": "text", "text": "✱", "font": "DejaVu Sans", "fontSize": 10, "dx": -7, "baseline": "middle"},
      "encoding": {"x": {"field": "pair", "type": "nominal", "sort": ["M1-VL", "S1-VPM", "M1-S1", "VL-VPM"]}, "xOffset": {"field": "cond", "type": "nominal", "sort": ["BASE", "LOM", "ANES", "ROM", "RECV"]},
                   "y": {"field": "y", "type": "quantitative"}}},
     {"data": {"name": "bars"}, "mark": {"type": "text", "angle": 300, "align": "right", "baseline": "middle", "dx": -4, "fontSize": 12.5},
      "encoding": {"x": {"field": "pair", "type": "nominal", "sort": ["M1-VL", "S1-VPM", "M1-S1", "VL-VPM"]}, "xOffset": {"field": "cond", "type": "nominal", "sort": ["BASE", "LOM", "ANES", "ROM", "RECV"]},
                   "y": {"datum": 0, "type": "quantitative"}, "text": {"field": "cond"}}}
    ]
   },
   {
    "width": 286, "height": 150,
    "title": {"text": "D", "offset": -16},
    "layer": [
     {"data": {"name": "dbar"}, "mark": {"type": "bar", "strokeWidth": 1},
      "encoding": {
       "x": {"field": "pair", "type": "nominal", "sort": ["M1-VL", "S1-VPM", "M1-S1", "VL-VPM"], "scale": {"paddingInner": 0.44, "paddingOuter": 0.22},
             "axis": {"orient": "top", "title": null, "labelAngle": 0, "labelFontSize": 13, "labelPadding": 2}},
       "xOffset": {"field": "state", "type": "nominal", "sort": ["OFF", "ON"], "scale": {"paddingInner": 0.575, "paddingOuter": 0.2875}},
       "y": {"field": "v", "type": "quantitative", "scale": {"domain": [0, 0.8], "nice": false},
             "axis": {"title": ["Gamma synch", "during ANES"], "values": [0, 0.2, 0.4, 0.6, 0.8], "tickCount": 12, "format": "~g", "labelOverlap": false}},
       "fill": {"field": "state", "type": "nominal", "scale": {"domain": ["OFF", "ON"], "range": ["#000000", "#ffffff"]}, "legend": null},
       "stroke": {"field": "state", "type": "nominal", "scale": {"domain": ["OFF", "ON"], "range": ["#555555", "#bbbbbb"]}, "legend": null}
      }},
     {"data": {"name": "dbar"}, "mark": {"type": "rule", "color": "#999", "strokeWidth": 1},
      "encoding": {"x": {"field": "pair", "type": "nominal", "sort": ["M1-VL", "S1-VPM", "M1-S1", "VL-VPM"]}, "xOffset": {"field": "state", "type": "nominal", "sort": ["OFF", "ON"]},
                   "y": {"field": "lo", "type": "quantitative"}, "y2": {"field": "hi"}}},
     {"data": {"name": "dbar"}, "mark": {"type": "tick", "color": "#999", "size": 6, "thickness": 1},
      "encoding": {"x": {"field": "pair", "type": "nominal", "sort": ["M1-VL", "S1-VPM", "M1-S1", "VL-VPM"]}, "xOffset": {"field": "state", "type": "nominal", "sort": ["OFF", "ON"]},
                   "y": {"field": "lo", "type": "quantitative"}}},
     {"data": {"name": "dbar"}, "mark": {"type": "tick", "color": "#999", "size": 6, "thickness": 1},
      "encoding": {"x": {"field": "pair", "type": "nominal", "sort": ["M1-VL", "S1-VPM", "M1-S1", "VL-VPM"]}, "xOffset": {"field": "state", "type": "nominal", "sort": ["OFF", "ON"]},
                   "y": {"field": "hi", "type": "quantitative"}}},
     {"data": {"name": "dbar"}, "mark": {"type": "tick", "color": "#444", "size": 13, "thickness": 1},
      "encoding": {"x": {"field": "pair", "type": "nominal", "sort": ["M1-VL", "S1-VPM", "M1-S1", "VL-VPM"]}, "xOffset": {"field": "state", "type": "nominal", "sort": ["OFF", "ON"]},
                   "y": {"field": "sig", "type": "quantitative"}}},
     {"data": {"name": "dstar"}, "mark": {"type": "text", "text": "✱", "font": "DejaVu Sans", "fontSize": 12, "baseline": "middle"},
      "encoding": {"x": {"field": "pair", "type": "nominal", "sort": ["M1-VL", "S1-VPM", "M1-S1", "VL-VPM"]}, "xOffset": {"field": "state", "type": "nominal", "sort": ["OFF", "ON"]},
                   "y": {"field": "y", "type": "quantitative"}}},
     {"data": {"name": "dbar"}, "mark": {"type": "text", "angle": 300, "align": "right", "baseline": "middle", "dx": -4, "fontSize": 12.5},
      "encoding": {"x": {"field": "pair", "type": "nominal", "sort": ["M1-VL", "S1-VPM", "M1-S1", "VL-VPM"]}, "xOffset": {"field": "state", "type": "nominal", "sort": ["OFF", "ON"]},
                   "y": {"datum": 0, "type": "quantitative"}, "text": {"field": "state"}}}
    ]
   }
  ],
  "spacing": 85,
  "bounds": "flush",
  "resolve": {"scale": {"color": "independent", "fill": "independent", "stroke": "independent", "x": "independent", "y": "independent", "xOffset": "independent"}}
 }
]
}
